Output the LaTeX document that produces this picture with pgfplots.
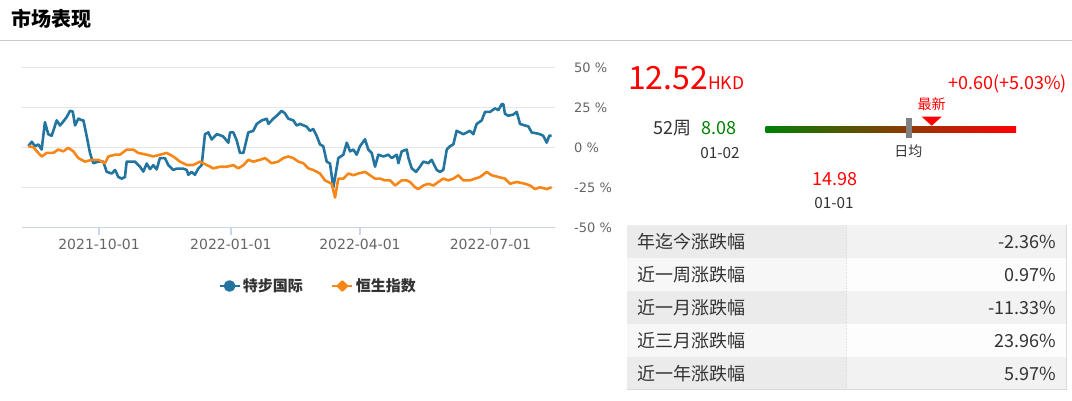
\documentclass[border=0pt]{standalone}
\usepackage{fontspec}
\setmainfont{Noto Sans CJK SC}
\newfontfamily\dejavu{DejaVu Sans}
\usepackage{pgfplots}
\pgfplotsset{compat=1.18}
\definecolor{cblue}{RGB}{35,117,160}
\definecolor{corange}{RGB}{247,134,24}
\definecolor{gridc}{RGB}{230,230,230}
\definecolor{axisc}{RGB}{204,214,235}
\definecolor{tickc}{RGB}{102,102,102}
\definecolor{txt}{RGB}{51,51,51}
\definecolor{cred}{RGB}{255,0,0}
\definecolor{cgreen}{RGB}{0,128,0}
\definecolor{rowa}{RGB}{235,235,235}
\definecolor{rowb}{RGB}{247,247,247}
\definecolor{rowc}{RGB}{242,242,242}
\definecolor{rowd}{RGB}{253,253,253}
\definecolor{bord}{RGB}{218,218,218}
\begin{document}
\begin{tikzpicture}[x=1pt,y=1pt]
\useasboundingbox (0,0) rectangle (1072,401);
\fill[white] (0,0) rectangle (1072,401);
% title
\node[anchor=west, inner sep=0, font=\fontsize{20}{22}\selectfont\bfseries] at (11,382) {市场表现};
\draw[color={rgb,255:red,200;green,200;blue,200}, line width=1.5pt] (0,360.5) -- (1072,360.5);

\begin{scope}[shift={(22pt,173.3pt)}]
\begin{axis}[
  anchor=south west,
  width=533pt, height=160.4pt, scale only axis,
  xmin=-53.7, xmax=318, ymin=-50, ymax=50,
  axis x line*=bottom, axis y line*=right,
  x axis line style={draw=axisc, line width=1.2pt, -},
  y axis line style={draw=none},
  xtick={0,92,182,273},
  xticklabels={2021-10-01,2022-01-01,2022-04-01,2022-07-01},
  ytick={-50,-25,0,25,50},
  yticklabels={-50 \%,-25 \%,0 \%,25 \%,50 \%},
  ymajorgrids, grid style={draw=gridc, line width=1.2pt},
  tick align=outside,
  x tick style={draw=axisc, line width=1.2pt},
  y tick style={draw=none},
  major tick length=7pt,
  xticklabel style={font=\dejavu\fontsize{14}{16}\selectfont, text=tickc, inner sep=0pt, anchor=north, yshift=-4pt},
  yticklabel style={font=\dejavu\fontsize{13}{15}\selectfont, text=tickc, inner sep=0pt, anchor=west, xshift=12pt},
  /pgf/number format/assume math mode=true,
  legend style={at={(0.5553,-0.3635)}, anchor=center, draw=none, fill=none,
    legend columns=2, font=\fontsize{15}{17}\selectfont\bfseries, text=txt,
    /tikz/every even column/.append style={column sep=26pt}},
  legend cell align=left,
]
\addplot[cblue, line width=2.6pt, line join=round, mark=none,
  legend image code/.code={\draw[cblue, line width=2.8pt] (0pt,0pt) -- (20pt,0pt); \fill[cblue] (10pt,0pt) circle (4.5pt);}]
coordinates {
(-49.3,0.8)(-46.9,3.6)(-44.6,0.8)(-42.3,1.9)(-40.0,-1.3)(-37.7,15.8)(-35.4,8.3)(-33.0,7.3)(-29.5,16.9)(-27.2,13.7)(-24.9,16.2)(-22.5,19)(-20.2,22.9)(-18.3,22.4)(-16.7,13.7)(-14.4,18)(-12.1,17)(-10.9,17)(-9.1,9.4)(-6.3,-3.4)(-4.0,-9.8)(-0.5,-8.8)(3.0,-8.8)(5.4,-15.2)(8.9,-16.2)(11.2,-14)(13.5,-18.4)(15.8,-19.4)(18.1,-18.4)(19.3,-8.8)(25.1,-8.8)(26.3,-10)(28.6,-12)(30.9,-15)(33.3,-10)(35.6,-13.5)(37.9,-11)(40.2,-13.7)(42.5,-6.6)(46.0,-6.6)(48.3,-10.9)(51.8,-14)(54.1,-13.2)(58.8,-13.2)(61.2,-14)(62.3,-17)(64.6,-15.2)(66.9,-17)(69.2,-13.2)(71.6,-11)(73.9,8.3)(76.2,9.4)(78.6,5)(82.1,8.3)(84.4,7.7)(86.7,6.8)(90.2,3)(91.4,9.4)(93.7,9.4)(96.0,4.5)(98.3,-3.4)(100.7,-3.4)(104.1,9.4)(107.6,10.4)(110.0,14.7)(113.5,16.9)(117.0,17.9)(118.1,14.7)(121.6,18)(123.9,19.8)(127.4,22.9)(129.7,21.2)(132.0,18)(135.5,16.9)(137.9,13.7)(140.2,14.7)(144.8,13)(147.1,10.4)(149.4,11.5)(151.8,7.3)(154.1,1.9)(156.4,0.8)(158.8,-8.8)(161.1,-10)(163.4,-25)(166.9,-6.6)(170.4,-4.5)(172.8,3)(175.1,-2.4)(177.4,-1.3)(179.7,-4.5)(182.0,0.8)(185.5,5.1)(187.8,-1.3)(190.2,-3.4)(192.5,-12)(194.8,-4.5)(198.3,-5.6)(201.8,-4.5)(204.1,-6.6)(207.6,-4.5)(208.8,-9.8)(211.1,-2.4)(214.6,-1.3)(215.8,-6.6)(218.1,-13)(221.1,-15.2)(223.8,-12)(226.2,-8.8)(229.7,-9.8)(232.0,-7.7)(235.5,-14)(237.8,-15.2)(240.1,-14)(242.5,-1.3)(244.8,0.8)(247.1,1.9)(249.4,10.4)(251.7,9.4)(254.1,8.3)(258.7,10.4)(261.0,8.3)(263.4,14.7)(266.9,16.9)(269.2,22.2)(272.7,22.2)(276.2,24.4)(278.5,23.3)(280.9,27.1)(282.0,27)(283.1,21)(285.4,19.8)(288.9,20.5)(291.3,22.2)(293.6,14.7)(297.1,13.7)(299.4,13.2)(301.7,9.4)(305.2,8.8)(307.5,8.3)(309.8,7.3)(312.2,3)(314.0,7.3)(315.6,7.3)
};
\addlegendentry{特步国际}
\addplot[corange, line width=2.6pt, line join=round, mark=none,
  legend image code/.code={\draw[corange, line width=2.8pt] (0pt,0pt) -- (20pt,0pt); \fill[corange] (10pt,4.5pt) -- (14.5pt,0pt) -- (10pt,-4.5pt) -- (5.5pt,0pt) -- cycle;}]
coordinates {
(-49.3,0.8)(-45.9,0.2)(-42.3,-3.4)(-40.0,-5.6)(-36.5,-3.4)(-31.9,-3.4)(-28.4,-1.3)(-24.9,-2.4)(-21.4,-0.2)(-17.9,-2.4)(-14.4,-6.6)(-9.8,-8.8)(-5.1,-7.7)(-0.5,-7.7)(4.2,-9.8)(6.5,-5.6)(11.2,-4.5)(14.6,-4.5)(19.3,-1.3)(23.9,-1.3)(27.4,-3.4)(33.3,-4.5)(37.9,-5.6)(42.5,-4.5)(47.2,-3.4)(51.8,-5.6)(56.5,-8.8)(61.2,-10.9)(65.8,-10.9)(70.4,-8.8)(75.1,-10.9)(79.7,-13)(84.4,-12)(89.1,-12)(93.7,-11)(97.1,-13)(100.7,-11)(104.1,-7.7)(107.6,-8.8)(112.3,-7.7)(115.8,-6.6)(120.4,-9.8)(125.0,-8.8)(128.5,-6.6)(132.0,-5.6)(135.5,-6.6)(139.0,-8.8)(142.5,-9.8)(146.0,-13)(149.4,-14)(154.1,-16.2)(157.6,-20.5)(162.3,-22.6)(164.6,-31.2)(166.9,-19.4)(170.4,-19.4)(173.9,-16.2)(177.4,-17.3)(180.9,-16.2)(185.5,-15.2)(189.0,-17.3)(192.5,-19.4)(196.0,-19.4)(199.5,-20.5)(203.0,-20.5)(206.5,-23.7)(211.1,-20.5)(214.6,-20.5)(216.9,-21.5)(220.4,-24.8)(222.7,-25.9)(226.2,-23.7)(229.7,-22.6)(233.2,-23.7)(236.6,-21.5)(240.1,-19.4)(243.6,-20.5)(247.1,-19.4)(250.6,-17.3)(254.1,-20.5)(258.7,-20.5)(262.2,-19.4)(265.7,-18.4)(270.4,-15.2)(273.8,-17.3)(278.5,-18.4)(283.1,-19.4)(286.6,-22.6)(291.3,-21.5)(297.1,-22.6)(300.6,-23.7)(304.0,-25.9)(307.5,-24.8)(312.2,-25.9)(315.6,-24.8)
};
\addlegendentry{恒生指数}
\end{axis}
\end{scope}

% right panel
\node[anchor=base west, inner sep=0, text=cred, font=\fontsize{32}{32}\selectfont] at (628,311) {12.52{\fontsize{17.5}{18}\selectfont HKD}};
\node[anchor=base east, inner sep=0, text=cred, font=\fontsize{18}{18}\selectfont] at (1067,311) {+0.60(+5.03\%)};
\node[inner sep=0, text=cred, font=\fontsize{14}{15}\selectfont] at (931.7,297) {最新};
\fill[cred] (921.7,284.3) -- (941.7,284.3) -- (931.7,275.3) -- cycle;
\shade[left color=cgreen, right color=cred] (765.7,268.3) rectangle (1016,274.3);
\fill[color={rgb,255:red,128;green,128;blue,128}] (906,262.7) rectangle (912,282.7);
\node[inner sep=0, text=txt, font=\fontsize{14}{15}\selectfont] at (908.3,249.3) {日均};
\node[anchor=east, inner sep=0, text=txt, font=\fontsize{18}{19}\selectfont] at (692,273.3) {52周};
\node[anchor=west, inner sep=0, text=cgreen, font=\fontsize{18}{19}\selectfont] at (701.7,273.3) {8.08};
\node[inner sep=0, text=txt, font=\fontsize{15.3}{16}\selectfont] at (720,247.7) {01-02};
\node[inner sep=0, text=cred, font=\fontsize{18}{19}\selectfont] at (835,222) {14.98};
\node[inner sep=0, text=txt, font=\fontsize{15.3}{16}\selectfont] at (834,197.7) {01-01};

% table
\foreach \i/\lab/\val/\ca/\cb in {0/年迄今涨跌幅/-2.36\%/rowa/rowc, 1/近一周涨跌幅/0.97\%/rowb/rowd, 2/近一月涨跌幅/-11.33\%/rowa/rowc, 3/近三月涨跌幅/23.96\%/rowb/rowd, 4/近一年涨跌幅/5.97\%/rowa/rowc}{
  \fill[\ca] (626.7,{143-33*\i}) rectangle (846.7,{176-33*\i});
  \fill[\cb] (846.7,{143-33*\i}) rectangle (1066.7,{176-33*\i});
  \node[anchor=west, inner sep=0, text=txt, font=\fontsize{18}{19}\selectfont] at (637.3,{159.5-33*\i}) {\lab};
  \node[anchor=east, inner sep=0, text=txt, font=\fontsize{18}{19}\selectfont] at (1056,{159.5-33*\i}) {\val};
}
\draw[bord, dotted, line width=0.8pt] (846.7,11) -- (846.7,176);
\draw[bord, line width=1pt] (1066.7,176) -- (1066.7,11) -- (626.7,11);
\end{tikzpicture}
\end{document}
